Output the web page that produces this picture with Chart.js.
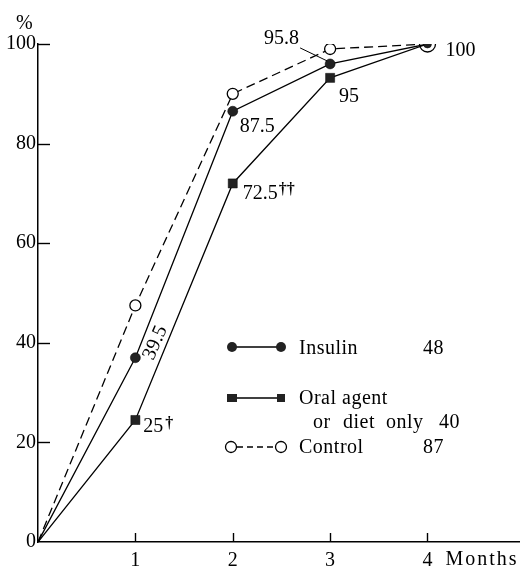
<!DOCTYPE html>
<html>
<head>
<meta charset="utf-8">
<script src="https://cdn.jsdelivr.net/npm/chart.js@4"></script>
<style>
  body { margin: 0; background: #fff; }
</style>
</head>
<body>
<canvas id="chart" width="520" height="568"></canvas>
<script>
// months after start
const months = [0, 1, 2, 3, 4];

// values as plotted (%)
const insulin = [0, 37, 86.5, 96, 100];
const oralAgent = [0, 24.5, 72, 93.2, 100];
const control = [0, 47.5, 90, 99, 100];

// group sizes shown in the key
const groupSizes = { insulin: 48, oral: 40, control: 87 };

const yTicks = [0, 20, 40, 60, 80, 100];
const xTicks = [1, 2, 3, 4];

const FONT = '"Liberation Serif", "DejaVu Serif", serif';
const FS = 20;

function pts(arr) {
    return months.map((m, i) => ({ x: m, y: arr[i] }));
}

// inward tick marks, as in the printed figure
const inwardTicks = {
    id: 'inwardTicks',
    afterDraw(chart) {
        const ctx = chart.ctx;
        const xs = chart.scales.x, ys = chart.scales.y;
        ctx.save();
        ctx.strokeStyle = '#000';
        ctx.lineWidth = 1.4;
        yTicks.forEach(v => {
            if (v === 0) return;
            const py = Math.round(ys.getPixelForValue(v)) + 0.5;
            ctx.beginPath();
            ctx.moveTo(xs.left, py);
            ctx.lineTo(xs.left + 12, py);
            ctx.stroke();
        });
        xTicks.forEach(v => {
            const px = Math.round(xs.getPixelForValue(v)) + 0.5;
            ctx.beginPath();
            ctx.moveTo(px, ys.bottom);
            ctx.lineTo(px, ys.bottom - 9);
            ctx.stroke();
        });
        ctx.restore();
    }
};

// value notes next to the points, key, axis titles
const annotations = {
    id: 'annotations',
    afterDraw(chart) {
        const ctx = chart.ctx;
        const xs = chart.scales.x, ys = chart.scales.y;
        const P = (arr, i) => [xs.getPixelForValue(months[i]), ys.getPixelForValue(arr[i])];
        const big = FS + 'px ' + FONT;
        const small = 'bold 16px ' + FONT;
        ctx.save();
        ctx.fillStyle = '#000';
        ctx.strokeStyle = '#000';
        ctx.font = big;
        ctx.textBaseline = 'alphabetic';
        ctx.textAlign = 'left';

        // axis titles
        ctx.fillText('%', 16, 29);
        ctx.letterSpacing = '2px';
        ctx.fillText('Months', xs.getPixelForValue(4) + 18, 565);
        ctx.letterSpacing = '0px';

        // insulin notes
        let [x, y] = P(insulin, 1);
        ctx.save();
        ctx.translate(x + 20, y - 15);
        ctx.rotate(-66.7 * Math.PI / 180);
        ctx.textAlign = 'center';
        ctx.textBaseline = 'middle';
        ctx.fillText('39.5', 0, 0);
        ctx.restore();

        [x, y] = P(insulin, 2);
        ctx.fillText('87.5', x + 7, y + 21);

        [x, y] = P(insulin, 3);
        ctx.fillText('95.8', x - 66, y - 20);
        ctx.lineWidth = 1;
        ctx.beginPath();
        ctx.moveTo(x - 30, y - 16);
        ctx.lineTo(x - 3, y - 3);
        ctx.stroke();

        [x, y] = P(insulin, 4);
        ctx.fillText('100', x + 18, y + 12);

        // oral agent notes
        [x, y] = P(oralAgent, 1);
        ctx.fillText('25', x + 8, y + 12);
        ctx.font = small;
        ctx.fillText('†', x + 30, y + 8);
        ctx.font = big;

        [x, y] = P(oralAgent, 2);
        ctx.fillText('72.5', x + 10, y + 16);
        ctx.font = small;
        ctx.fillText('††', x + 46, y + 11);
        ctx.font = big;

        [x, y] = P(oralAgent, 3);
        ctx.fillText('95', x + 9, y + 24);

        // key
        ctx.letterSpacing = '0.5px';
        ctx.lineWidth = 1.3;
        // insulin row
        ctx.beginPath();
        ctx.moveTo(232, 347); ctx.lineTo(281, 347);
        ctx.stroke();
        ctx.fillStyle = '#222';
        [232, 281].forEach(cx => {
            ctx.beginPath(); ctx.arc(cx, 347, 5, 0, Math.PI * 2); ctx.fill();
        });
        ctx.fillStyle = '#000';
        ctx.fillText('Insulin', 299, 354);
        ctx.fillText(String(groupSizes.insulin), 423, 354);

        // oral row
        ctx.beginPath();
        ctx.moveTo(232, 398); ctx.lineTo(281, 398);
        ctx.stroke();
        ctx.fillStyle = '#222';
        ctx.fillRect(227, 394, 10, 8);
        ctx.fillRect(277, 394, 8, 8);
        ctx.fillStyle = '#000';
        ctx.fillText('Oral', 299, 404);
        ctx.fillText('agent', 342, 404);
        ctx.fillText('or', 313, 428);
        ctx.fillText('diet', 343, 428);
        ctx.fillText('only', 386, 428);
        ctx.fillText(String(groupSizes.oral), 439, 428);

        // control row
        ctx.setLineDash([6, 4]);
        ctx.beginPath();
        ctx.moveTo(237, 447); ctx.lineTo(276, 447);
        ctx.stroke();
        ctx.setLineDash([]);
        ctx.fillStyle = '#fff';
        [231, 281].forEach(cx => {
            ctx.beginPath(); ctx.arc(cx, 447, 5.5, 0, Math.PI * 2);
            ctx.fill(); ctx.stroke();
        });
        ctx.fillStyle = '#000';
        ctx.fillText('Control', 299, 453);
        ctx.fillText(String(groupSizes.control), 423, 453);

        ctx.restore();
    }
};

new Chart(document.getElementById('chart'), {
    type: 'line',
    data: {
        datasets: [
            {
                label: 'Insulin',
                data: pts(insulin),
                borderColor: '#000',
                borderWidth: 1.3,
                pointStyle: 'circle',
                pointRadius: [0, 5, 5, 5, 4],
                pointBackgroundColor: '#222',
                pointBorderColor: '#000',
                pointBorderWidth: 0.5,
                tension: 0,
                order: 1
            },
            {
                label: 'Oral agent or diet only',
                data: pts(oralAgent),
                borderColor: '#000',
                borderWidth: 1.3,
                pointStyle: 'rect',
                pointRadius: [0, 6.4, 6.4, 6.4, 0],
                pointBackgroundColor: '#222',
                pointBorderColor: '#000',
                pointBorderWidth: 0.5,
                tension: 0,
                order: 2
            },
            {
                label: 'Control',
                data: pts(control),
                borderColor: '#000',
                borderWidth: 1.3,
                borderDash: [9, 5],
                pointStyle: 'circle',
                pointRadius: [0, 5.5, 5.5, 5.5, 8],
                pointBackgroundColor: '#fff',
                pointBorderColor: '#000',
                pointBorderWidth: 1.3,
                tension: 0,
                order: 3
            }
        ]
    },
    options: {
        responsive: false,
        animation: false,
        events: [],
        layout: { autoPadding: false, padding: { top: 44, right: 0, left: 0, bottom: 0 } },
        plugins: {
            legend: { display: false },
            tooltip: { enabled: false }
        },
        scales: {
            x: {
                type: 'linear',
                min: 0,
                max: 4.95,
                afterFit(scale) { scale.height = 26; },
                grid: { display: false, drawTicks: false },
                border: { display: true, color: '#000', width: 1.5 },
                ticks: {
                    stepSize: 1,
                    includeBounds: false,
                    padding: 7,
                    color: '#000',
                    font: { family: FONT, size: FS },
                    callback: v => xTicks.includes(v) ? String(v) : ''
                }
            },
            y: {
                min: 0,
                max: 100,
                afterFit(scale) { scale.width = 38; },
                grid: { display: false, drawTicks: false },
                border: { display: true, color: '#000', width: 1.5 },
                ticks: {
                    stepSize: 20,
                    padding: 2,
                    color: '#000',
                    font: { family: FONT, size: FS },
                    callback: v => yTicks.includes(v) ? String(v) : ''
                }
            }
        }
    },
    plugins: [inwardTicks, annotations]
});
</script>
</body>
</html>
